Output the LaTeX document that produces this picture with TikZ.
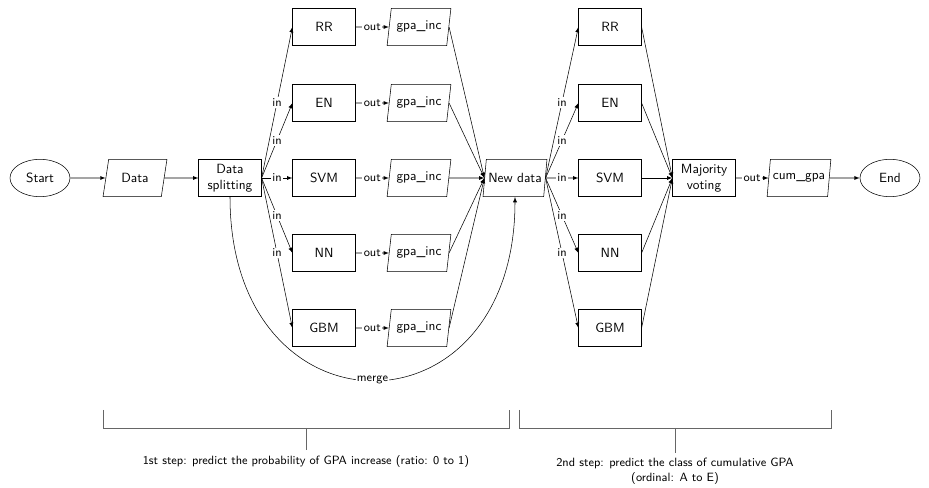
\documentclass[tikz,border=0pt]{standalone}
\usetikzlibrary{shapes.geometric,arrows}
\begin{document}
\begin{tikzpicture}[x=0.75pt,y=-0.75pt,font=\sffamily,>=latex,
	proc/.style={draw, rectangle, minimum width=47pt, minimum height=28pt, align=center, inner sep=1pt},
	io/.style={draw, trapezium, trapezium left angle=80, trapezium right angle=100, trapezium stretches=true, minimum width=48pt, minimum height=28pt, inner xsep=1pt},
	term/.style={draw, ellipse, minimum width=45pt, minimum height=28pt},
	lbl/.style={fill=white, inner sep=1pt, font=\sffamily\small},
	note/.style={font=\sffamily\small, align=center}]
		\useasboundingbox (0,0) rectangle (929,488);
		\node[term] (start) at (40,178) {Start};
		\node[io] (data) at (135,178) {Data};
		\node[proc] (split) at (230,178) {Data\\splitting};
		\node[proc] (rr1) at (324,27) {RR};
		\node[proc] (en1) at (324,103) {EN};
		\node[proc] (svm1) at (324,178) {SVM};
		\node[proc] (nn1) at (324,253) {NN};
		\node[proc] (gbm1) at (324,328) {GBM};
		\node[io] (inc1) at (419,27) {gpa\_inc};
		\node[io] (inc2) at (419,103) {gpa\_inc};
		\node[io] (inc3) at (419,178) {gpa\_inc};
		\node[io] (inc4) at (419,253) {gpa\_inc};
		\node[io] (inc5) at (419,328) {gpa\_inc};
		\node[io] (new) at (515,178) {New data};
		\node[proc] (rr2) at (610,27) {RR};
		\node[proc] (en2) at (610,103) {EN};
		\node[proc] (svm2) at (610,178) {SVM};
		\node[proc] (nn2) at (610,253) {NN};
		\node[proc] (gbm2) at (610,328) {GBM};
		\node[proc] (vote) at (704,178) {Majority\\voting};
		\node[io] (cum) at (799,178) {cum\_gpa};
		\node[term] (stop) at (890,178) {End};
		
		\draw[->] (start) -- (data);
		\draw[->] (data) -- (split);
		\draw[->] (split.east) -- node[lbl] {in} (rr1.west);
		\draw[->] (split.east) -- node[lbl] {in} (en1.west);
		\draw[->] (split.east) -- node[lbl] {in} (svm1.west);
		\draw[->] (split.east) -- node[lbl] {in} (nn1.west);
		\draw[->] (split.east) -- node[lbl] {in} (gbm1.west);
		\draw[->] (rr1) -- node[lbl] {out} (inc1);
		\draw[->] (en1) -- node[lbl] {out} (inc2);
		\draw[->] (svm1) -- node[lbl] {out} (inc3);
		\draw[->] (nn1) -- node[lbl] {out} (inc4);
		\draw[->] (gbm1) -- node[lbl] {out} (inc5);
		\draw[->] (inc1.east) -- (new.west);
		\draw[->] (inc2.east) -- (new.west);
		\draw[->] (inc3.east) -- (new.west);
		\draw[->] (inc4.east) -- (new.west);
		\draw[->] (inc5.east) -- (new.west);
		\draw[->] (split.south) to[out=-90, in=-90, looseness=2.2] node[lbl] {merge} (new.south);
		\draw[->] (new.east) -- node[lbl] {in} (rr2.west);
		\draw[->] (new.east) -- node[lbl] {in} (en2.west);
		\draw[->] (new.east) -- node[lbl] {in} (svm2.west);
		\draw[->] (new.east) -- node[lbl] {in} (nn2.west);
		\draw[->] (new.east) -- node[lbl] {in} (gbm2.west);
		\draw[->] (rr2.east) -- (vote.west);
		\draw[->] (en2.east) -- (vote.west);
		\draw[->] (svm2.east) -- (vote.west);
		\draw[->] (nn2.east) -- (vote.west);
		\draw[->] (gbm2.east) -- (vote.west);
		\draw[->] (vote) -- node[lbl] {out} (cum);
		\draw[->] (cum) -- (stop);
		
		% steps
		\draw[black!60] (103,410) -- (103,428) -- (509,428) -- (509,410);
		\draw[black!60] (519,410) -- (519,428) -- (831,428) -- (831,410);
		\coordinate (brace1) at (306,428);
		\coordinate (brace2) at (675,428);
		\node[note] (step1) at (306,461) {1st step: predict the probability of GPA increase (ratio: 0 to 1)};
		\node[note] (step2) at (675,471) {2nd step: predict the class of cumulative GPA\\(ordinal: A to E)};
		\draw[black!60] (brace1) -- (step1);
		\draw[black!60] (brace2) -- (step2);
\end{tikzpicture}
\end{document}
